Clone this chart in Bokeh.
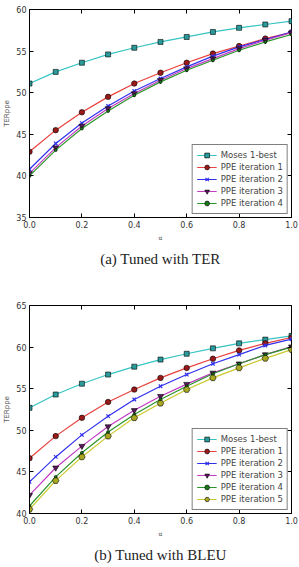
from bokeh.plotting import figure
from bokeh.layouts import column
from bokeh.models import (Legend, LegendItem, LinearAxis, Title, Range1d, FixedTicker,
                          PrintfTickFormatter)
from bokeh.embed import file_html
from bokeh.resources import INLINE

# interpolation weight
alpha = [0.0, 0.1, 0.2, 0.3, 0.4, 0.5, 0.6, 0.7, 0.8, 0.9, 1.0]

# (a) tuned with TER
ter_moses = [51.1, 52.5, 53.6, 54.6, 55.4, 56.1, 56.7, 57.3, 57.8, 58.2, 58.6]
ter_ppe1 = [42.9, 45.5, 47.65, 49.5, 51.1, 52.4, 53.6, 54.7, 55.6, 56.5, 57.25]
ter_ppe2 = [40.8, 43.9, 46.35, 48.4, 50.2, 51.7, 53.1, 54.4, 55.5, 56.4, 57.3]
ter_ppe3 = [40.3, 43.4, 46.0, 48.1, 49.9, 51.5, 52.9, 54.1, 55.3, 56.3, 57.2]
ter_ppe4 = [40.0, 43.1, 45.7, 47.8, 49.7, 51.3, 52.7, 53.9, 55.1, 56.1, 57.0]

# (b) tuned with BLEU
bleu_moses = [52.7, 54.3, 55.6, 56.7, 57.65, 58.5, 59.2, 59.85, 60.45, 60.9, 61.35]
bleu_ppe1 = [46.65, 49.3, 51.5, 53.4, 54.9, 56.3, 57.5, 58.6, 59.6, 60.45, 61.15]
bleu_ppe2 = [43.8, 46.8, 49.45, 51.7, 53.7, 55.3, 56.7, 58.0, 59.1, 60.2, 60.95]
bleu_ppe3 = [42.2, 45.5, 48.1, 50.45, 52.4, 54.1, 55.55, 56.9, 58.0, 59.1, 60.05]
bleu_ppe4 = [40.9, 44.4, 47.3, 49.8, 51.9, 53.7, 55.3, 56.8, 58.0, 59.1, 60.0]
bleu_ppe5 = [40.5, 43.95, 46.8, 49.3, 51.5, 53.25, 54.9, 56.3, 57.5, 58.65, 59.7]

x_ticks = [0.0, 0.2, 0.4, 0.6, 0.8, 1.0]
ter_y_ticks = [35, 40, 45, 50, 55, 60]
bleu_y_ticks = [40, 45, 50, 55, 60, 65]

names = ["Moses 1-best", "PPE iteration 1", "PPE iteration 2",
         "PPE iteration 3", "PPE iteration 4", "PPE iteration 5"]

# line colour, marker, marker size
styles = [
    ("#35c4c4", "square", 5),
    ("#e8403c", "circle", 5.5),
    ("#3030ee", "x", 5),
    ("#c23cc2", "inverted_triangle", 6),
    ("#2a962a", "circle", 3),
    ("#c9c92e", "hex", 6.5),
]
marker_fill = ["#2a9a9a", "#9a1a1a", "#2020dd", "#5a1a5a", "#1a7a1a", "#a8a820"]

TICK_FONT = "DejaVu Sans"


def make_panel(series, y_lo, y_hi, y_ticks, caption, height, top, bottom):
    p = figure(width=299, height=height, output_backend="svg", toolbar_location=None,
               x_range=Range1d(0, 1), y_range=Range1d(y_lo, y_hi),
               min_border_left=21, min_border_right=8,
               min_border_top=top, min_border_bottom=bottom)
    p.grid.visible = False
    p.outline_line_color = "black"
    p.outline_line_width = 1
    p.background_fill_color = "white"

    for ax in (p.xaxis[0], p.yaxis[0]):
        ax.major_tick_in = 4
        ax.major_tick_out = 0
        ax.minor_tick_line_color = None
        ax.axis_line_color = "black"
        ax.major_tick_line_color = "black"
        ax.major_label_text_font = TICK_FONT
        ax.major_label_text_font_size = "8px"
        ax.major_label_text_color = "#333333"
        ax.major_label_standoff = 3
        ax.axis_label_text_font = TICK_FONT
        ax.axis_label_text_font_style = "normal"
        ax.axis_label_text_color = "#555555"
        ax.axis_label_standoff = 3

    p.xaxis.ticker = FixedTicker(ticks=x_ticks)
    p.xaxis.formatter = PrintfTickFormatter(format="%.1f")
    p.yaxis.ticker = FixedTicker(ticks=y_ticks)
    p.xaxis.axis_label = "α"
    p.xaxis.axis_label_text_font_size = "6px"
    p.yaxis.axis_label = "TERppe"
    p.yaxis.axis_label_text_font_size = "7px"
    p.yaxis.major_label_standoff = 3
    p.yaxis.axis_label_standoff = 2

    # tick marks on the top and right edges, with their labels switched off
    for loc, ticks in (("above", x_ticks), ("right", y_ticks)):
        ax = LinearAxis(ticker=FixedTicker(ticks=ticks), major_tick_in=4, major_tick_out=0,
                        minor_tick_line_color=None, axis_line_color=None,
                        major_label_text_color=None, major_label_text_font_size="1px",
                        major_label_standoff=0)
        p.add_layout(ax, loc)

    items = []
    for (name, ys), (color, marker, size), fill in zip(series, styles, marker_fill):
        ln = p.line(alpha, ys, line_color=color, line_width=1.2)
        sc = p.scatter(alpha, ys, marker=marker, size=size, fill_color=fill,
                       line_color="black" if marker != "x" else color,
                       line_width=0.6 if marker != "x" else 1.2)
        items.append(LegendItem(label=name, renderers=[ln, sc]))

    legend = Legend(items=items, location="bottom_right",
                    label_text_font=TICK_FONT, label_text_font_size="8.5px",
                    label_height=12, glyph_height=12, glyph_width=20,
                    label_standoff=4, spacing=0, padding=4, margin=3,
                    border_line_color="black", border_line_width=1,
                    background_fill_alpha=1)
    p.add_layout(legend)

    p.add_layout(Title(text=caption, align="center", text_font="Liberation Serif",
                       text_font_size="15px", text_font_style="normal",
                       text_color="#222222"), "below")
    return p


top_panel = make_panel(list(zip(names, [ter_moses, ter_ppe1, ter_ppe2, ter_ppe3, ter_ppe4])),
                       35, 60, ter_y_ticks, "(a) Tuned with TER", 285, 9, 68)
bottom_panel = make_panel(list(zip(names, [bleu_moses, bleu_ppe1, bleu_ppe2, bleu_ppe3,
                                           bleu_ppe4, bleu_ppe5])),
                          40, 65, bleu_y_ticks, "(b) Tuned with BLEU", 282, 20, 54)

page = column(top_panel, bottom_panel, spacing=0)
open("out.html", "w").write(file_html(page, INLINE))
